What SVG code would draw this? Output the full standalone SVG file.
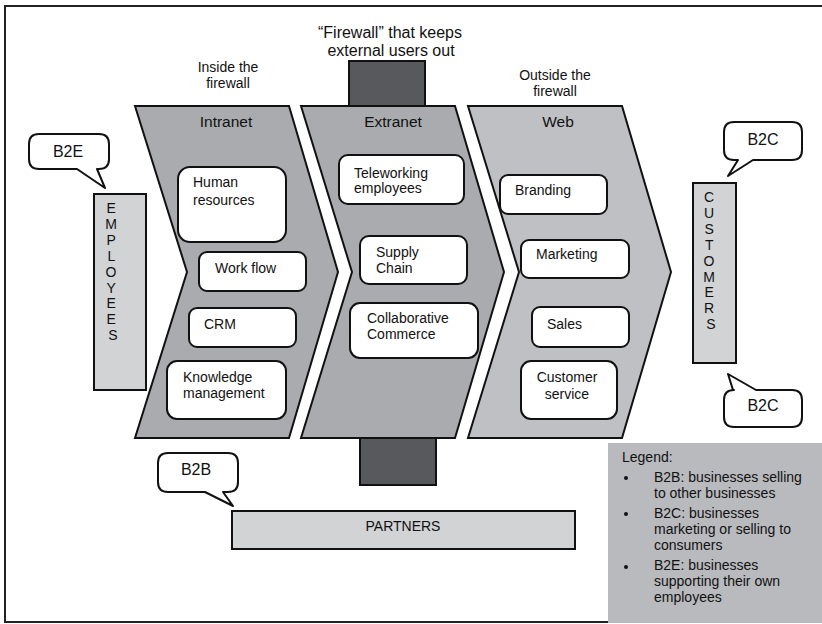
<svg xmlns="http://www.w3.org/2000/svg" width="822" height="624" viewBox="0 0 822 624">
  <style>
    text { font-family: "Liberation Sans", Arial, sans-serif; fill: #111; }
    .t16 { font-size: 16px; }
    .t15 { font-size: 15.5px; }
    .t14 { font-size: 14px; }
    .mid { text-anchor: middle; }
    .chev { stroke: #111; stroke-width: 2; stroke-linejoin: miter; }
    .box { fill: #fff; stroke: #111; stroke-width: 2; }
    .party { fill: #d2d3d5; stroke: #111; stroke-width: 2; }
    .bubble { fill: #fff; stroke: #111; stroke-width: 2; stroke-linejoin: round; }
    .wall { fill: #58595c; stroke: #111; stroke-width: 2; }
  </style>

  <!-- outer frame -->
  <path d="M 830 6 H 5 V 622 H 830" fill="none" stroke="#222" stroke-width="2"/>

  <!-- firewall blocks -->
  <g id="firewall">
    <rect class="wall" x="349" y="61" width="76" height="45"/>
    <rect class="wall" x="360" y="438" width="76" height="47"/>
    <text class="t16 mid" x="390" y="38">“Firewall” that keeps</text>
    <text class="t16 mid" x="391" y="56">external users out</text>
  </g>

  <!-- zone captions -->
  <text class="t14 mid" x="228" y="72">Inside the</text>
  <text class="t14 mid" x="228" y="88">firewall</text>
  <text class="t14 mid" x="555" y="80">Outside the</text>
  <text class="t14 mid" x="555" y="96">firewall</text>

  <!-- Intranet -->
  <g id="intranet">
    <polygon class="chev" fill="#a9abae" points="135,106 289,106 338,272 289,438 135,438 187,272"/>
    <text class="t15 mid" x="226" y="127">Intranet</text>
    <g id="human-resources">
      <rect class="box" x="178" y="167" width="108" height="75" rx="12"/>
      <text class="t14" x="193" y="187">Human</text>
      <text class="t14" x="193" y="205">resources</text>
    </g>
    <g id="work-flow">
      <rect class="box" x="199" y="252" width="107" height="39" rx="8"/>
      <text class="t14" x="215" y="273">Work flow</text>
    </g>
    <g id="crm">
      <rect class="box" x="189" y="308" width="107" height="39" rx="8"/>
      <text class="t14" x="204" y="329">CRM</text>
    </g>
    <g id="knowledge-management">
      <rect class="box" x="167" y="361" width="119" height="58" rx="10"/>
      <text class="t14" x="183" y="382">Knowledge</text>
      <text class="t14" x="183" y="398">management</text>
    </g>
  </g>

  <!-- Extranet -->
  <g id="extranet">
    <polygon class="chev" fill="#a9abae" points="301,106 455,106 504,272 455,438 301,438 352,272"/>
    <text class="t15 mid" x="393" y="127">Extranet</text>
    <g id="teleworking">
      <rect class="box" x="339" y="155" width="125" height="49" rx="9"/>
      <text class="t14" x="354" y="178">Teleworking</text>
      <text class="t14" x="354" y="193">employees</text>
    </g>
    <g id="supply-chain">
      <rect class="box" x="360" y="236" width="107" height="48" rx="9"/>
      <text class="t14" x="376" y="257">Supply</text>
      <text class="t14" x="376" y="273">Chain</text>
    </g>
    <g id="collaborative-commerce">
      <rect class="box" x="350" y="303" width="128" height="55" rx="10"/>
      <text class="t14" x="367" y="323">Collaborative</text>
      <text class="t14" x="367" y="339">Commerce</text>
    </g>
  </g>

  <!-- Web -->
  <g id="web">
    <polygon class="chev" fill="#bfc0c3" points="468,106 622,106 671,272 622,438 468,438 519,272"/>
    <text class="t15 mid" x="558" y="127">Web</text>
    <g id="branding">
      <rect class="box" x="500" y="175" width="107" height="39" rx="8"/>
      <text class="t14" x="515" y="195">Branding</text>
    </g>
    <g id="marketing">
      <rect class="box" x="521" y="240" width="108" height="38" rx="8"/>
      <text class="t14" x="536" y="259">Marketing</text>
    </g>
    <g id="sales">
      <rect class="box" x="532" y="307" width="97" height="40" rx="8"/>
      <text class="t14" x="547" y="329">Sales</text>
    </g>
    <g id="customer-service">
      <rect class="box" x="521" y="361" width="96" height="58" rx="10"/>
      <text class="t14 mid" x="567" y="382">Customer</text>
      <text class="t14 mid" x="567" y="399">service</text>
    </g>
  </g>

  <!-- Employees -->
  <g id="employees">
    <rect class="party" x="94" y="194" width="52" height="196"/>
    <text class="t14 mid" x="113" y="213">
      <tspan x="113" dy="0">E</tspan>
      <tspan x="113" dy="15.9">M</tspan>
      <tspan x="113" dy="15.9">P</tspan>
      <tspan x="113" dy="15.9">L</tspan>
      <tspan x="113" dy="15.9">O</tspan>
      <tspan x="113" dy="15.9">Y</tspan>
      <tspan x="113" dy="15.9">E</tspan>
      <tspan x="113" dy="15.9">E</tspan>
      <tspan x="113" dy="15.9">S</tspan>
    </text>
  </g>

  <!-- Customers -->
  <g id="customers">
    <rect class="party" x="693" y="183" width="43" height="180"/>
    <text class="t14 mid" x="711" y="202">
      <tspan x="711" dy="0">C</tspan>
      <tspan x="711" dy="15.9">U</tspan>
      <tspan x="711" dy="15.9">S</tspan>
      <tspan x="711" dy="15.9">T</tspan>
      <tspan x="711" dy="15.9">O</tspan>
      <tspan x="711" dy="15.9">M</tspan>
      <tspan x="711" dy="15.9">E</tspan>
      <tspan x="711" dy="15.9">R</tspan>
      <tspan x="711" dy="15.9">S</tspan>
    </text>
  </g>

  <!-- Partners -->
  <g id="partners">
    <rect class="party" x="232" y="511" width="343" height="38"/>
    <text class="t14 mid" x="403" y="531">PARTNERS</text>
  </g>

  <!-- callouts -->
  <g id="callout-b2e">
    <path class="bubble" d="M 39 134 H 99 Q 109 134 109 144 V 159 Q 109 169 99 169 H 97 L 105 188 L 77 169 H 39 Q 29 169 29 159 V 144 Q 29 134 39 134 Z"/>
    <text class="t16 mid" x="68" y="157">B2E</text>
  </g>
  <g id="callout-b2b">
    <path class="bubble" d="M 168 453 H 228 Q 238 453 238 463 V 482 Q 238 492 228 492 H 223 L 233 506 L 205 492 H 168 Q 158 492 158 482 V 463 Q 158 453 168 453 Z"/>
    <text class="t16 mid" x="196" y="475">B2B</text>
  </g>
  <g id="callout-b2c-top">
    <path class="bubble" d="M 734 122 H 792 Q 802 122 802 132 V 150 Q 802 160 792 160 H 753 L 728 176 L 738 160 H 734 Q 724 160 724 150 V 132 Q 724 122 734 122 Z"/>
    <text class="t16 mid" x="763" y="145">B2C</text>
  </g>
  <g id="callout-b2c-bottom">
    <path class="bubble" d="M 734 390 H 733 L 728 374 L 756 390 H 792 Q 802 390 802 400 V 417 Q 802 427 792 427 H 734 Q 724 427 724 417 V 400 Q 724 390 734 390 Z"/>
    <text class="t16 mid" x="763" y="411">B2C</text>
  </g>

  <!-- legend -->
  <g id="legend">
    <rect x="608" y="443" width="214" height="180" fill="#b9babd"/>
    <text class="t14" x="622" y="462">Legend:</text>
    <circle cx="626" cy="478" r="2" fill="#111"/>
    <text class="t14" x="654" y="482">B2B: businesses selling</text>
    <text class="t14" x="654" y="498">to other businesses</text>
    <circle cx="626" cy="514" r="2" fill="#111"/>
    <text class="t14" x="654" y="518">B2C: businesses</text>
    <text class="t14" x="654" y="534">marketing or selling to</text>
    <text class="t14" x="654" y="550">consumers</text>
    <circle cx="626" cy="567" r="2" fill="#111"/>
    <text class="t14" x="654" y="570">B2E: businesses</text>
    <text class="t14" x="654" y="586">supporting their own</text>
    <text class="t14" x="654" y="602">employees</text>
  </g>
</svg>
